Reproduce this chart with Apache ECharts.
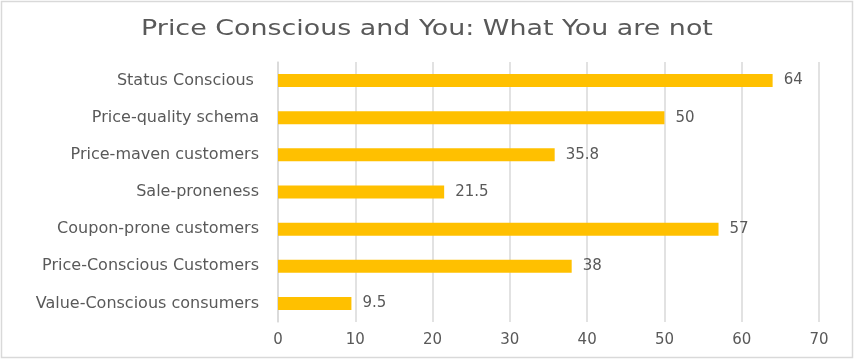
<!DOCTYPE html>
<html><head><meta charset="utf-8">
<script src="https://cdn.jsdelivr.net/npm/echarts@6/dist/echarts.min.js"></script>
<style>html,body{margin:0;padding:0;background:#fff}#c{width:857px;height:361px}</style>
</head><body><div id="c"></div>
<script>
const categories = ['Value-Conscious consumers','Price-Conscious Customers','Coupon-prone customers','Sale-proneness','Price-maven customers','Price-quality schema','Status Conscious '];
const values = [9.5, 38, 57, 21.5, 35.8, 50, 64];
const xTicks = [0, 70, 10];
const titleText = 'Price Conscious and You: What You are not';
const chart = echarts.init(document.getElementById('c'));
const font = '"DejaVu Sans", sans-serif';
chart.setOption({
  animation: false,
  graphic: [
    {type:'rect', shape:{x:1.5,y:1.5,width:851,height:356}, style:{fill:'none', stroke:'#d9d9d9', lineWidth:1.5}, silent:true},
    {type:'text', x:427, y:30, scaleX:1.28, style:{text:titleText, align:'center', verticalAlign:'middle', fontFamily:font, fontSize:21, fill:'#595959'}, silent:true}
  ],
  grid: {left:278, right:38, top:62, bottom:39, containLabel:false},
  xAxis: {type:'value', min:xTicks[0], max:xTicks[1], interval:xTicks[2],
    axisLine:{show:false}, axisTick:{show:false},
    axisLabel:{fontFamily:font, fontSize:15, color:'#595959', margin:11},
    splitLine:{lineStyle:{color:'#d9d9d9', width:1.5}}},
  yAxis: {type:'category', data:categories,
    axisLine:{show:true, lineStyle:{color:'#d9d9d9', width:1.5}}, axisTick:{show:false},
    axisLabel:{fontFamily:font, fontSize:16, color:'#595959', margin:19}},
  series: [{type:'bar', data:values, barWidth:13, itemStyle:{color:'#FFC000'},
    label:{show:true, position:'right', distance:11, fontFamily:font, fontSize:15, color:'#595959'}}]
});
</script></body></html>
